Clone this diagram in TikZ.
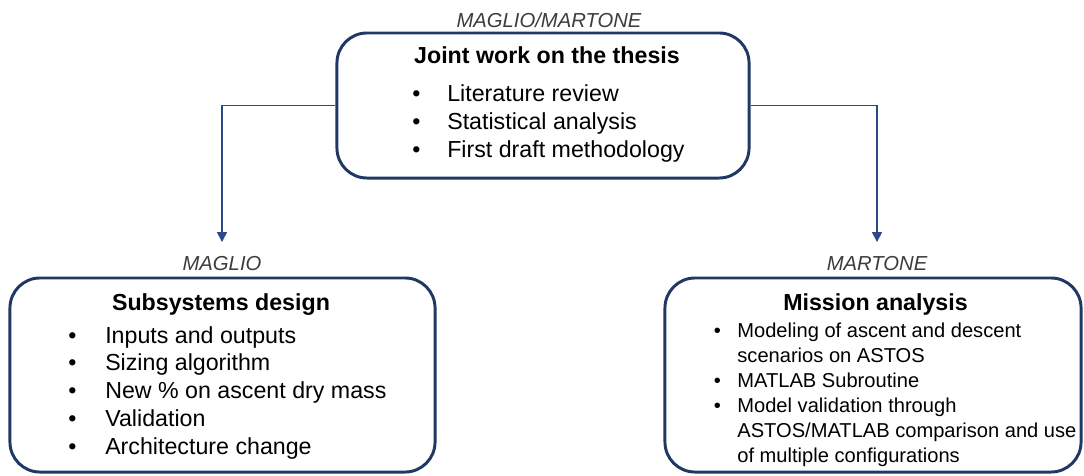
\documentclass[tikz,border=0pt]{standalone}
\usepackage{fontspec}
\setmainfont{Liberation Sans}
\usetikzlibrary{arrows.meta}
\definecolor{navy}{RGB}{32,56,100}
\definecolor{linkblue}{RGB}{46,70,138}
\definecolor{whogray}{RGB}{60,60,60}

\begin{document}
\begin{tikzpicture}[x=0.025cm, y=-0.025cm,
    box/.style={draw=navy, line width=2.1pt, rounded corners=0.75cm, inner sep=0},
    who/.style={font=\fontsize{14.4}{17}\selectfont\itshape, text=whogray, inner sep=0},
    head/.style={font=\fontsize{16.5}{20}\selectfont\bfseries, inner sep=0, anchor=base},
    items/.style={inner sep=0, anchor=base west},
    link/.style={draw=linkblue, line width=1pt, -{Triangle[width=7pt,length=7pt]}, shorten >=0.35cm}]
  \useasboundingbox (0,0) rectangle (1084,475);

  % the three boxes
  \node[box, minimum width=10.3cm, minimum height=3.625cm] (joint) at (543,105.5) {};
  \node[box, minimum width=10.625cm, minimum height=4.85cm] (subsys) at (222.5,375) {};
  \node[box, minimum width=10.4cm, minimum height=4.85cm] (mission) at (873,375) {};

  % who did what
  \node[who] (jointwho) at (549,20) {MAGLIO/MARTONE};
  \node[who] (subsyswho) at (222,263.5) {MAGLIO};
  \node[who] (missionwho) at (877,263.5) {MARTONE};

  \node[head] (jointhead) at (547,63) {Joint work on the thesis};
  \node[head] (subsyshead) at (221,310) {Subsystems design};
  \node[head] (missionhead) at (875.5,310) {Mission analysis};

  \node[items, font=\fontsize{16.5}{19.9}\selectfont] (jointlist) at (412,101.5) {%
    \begin{tabular}[t]{@{}p{0.875cm}@{}l@{}}
      • & Literature review\\
      • & Statistical analysis\\
      • & First draft methodology
    \end{tabular}};
  \node[items, font=\fontsize{16.5}{19.75}\selectfont] (subsyslist) at (68,343) {%
    \begin{tabular}[t]{@{}p{0.925cm}@{}l@{}}
      • & Inputs and outputs\\
      • & Sizing algorithm\\
      • & New \% on ascent dry mass\\
      • & Validation\\
      • & Architecture change
    \end{tabular}};
  \node[items, font=\fontsize{14.3}{17.9}\selectfont] (missionlist) at (713.5,337) {%
    \begin{tabular}[t]{@{}p{0.59cm}@{}l@{}}
      • & Modeling of ascent and descent\\
        & scenarios on ASTOS\\
      • & MATLAB Subroutine\\
      • & Model validation through\\
        & ASTOS/MATLAB comparison and use\\
        & of multiple configurations
    \end{tabular}};

  % split of the work
  \draw[link] (joint.west) -| (subsyswho.north);
  \draw[link] (joint.east) -| (missionwho.north);
\end{tikzpicture}
\end{document}
